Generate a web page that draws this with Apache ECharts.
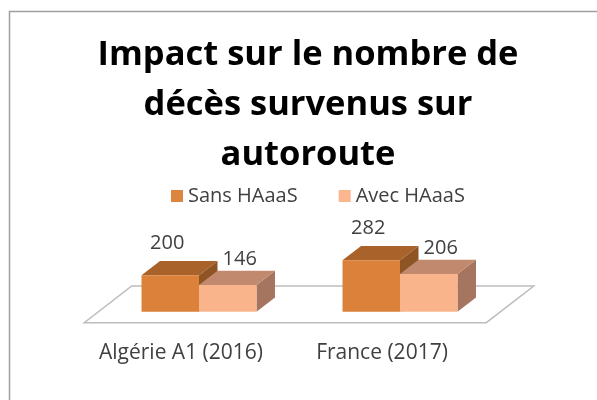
<!DOCTYPE html>
<html>
<head>
<meta charset="utf-8">
<script src="https://cdn.jsdelivr.net/npm/echarts@6/dist/echarts.min.js"></script>
<style>
  html, body { margin: 0; padding: 0; background: #ffffff; }
  #chart { width: 597px; height: 400px; }
</style>
</head>
<body>
<div id="chart"></div>
<script>
// ---- data ----
const categories = ['Algérie A1 (2016)', 'France (2017)'];
const seriesNames = ['Sans HAaaS', 'Avec HAaaS'];
const sansValues = [200, 282];
const avecValues = [146, 206];
const titleLines = ['Impact sur le nombre de', 'décès survenus sur', 'autoroute'];

// ---- style ----
const FONT = '"Open Sans", sans-serif';
const palette = [
  { front: '#DB813A', top: '#A8622A', side: '#8F5424', legend: '#DC853F' },
  { front: '#FAB48C', top: '#C18A6E', side: '#A57560', legend: '#FBB58F' }
];
const DEPTH_X = 18.5;   // oblique box depth, horizontal part
const DEPTH_Y = 14.3;   // oblique box depth, vertical part
const BAR_FRAC = 0.286; // bar width relative to the category band
const labelNudge = [[-3, -18], [12, -11.6]]; // per series: value label offset from the top face

function boxRenderer(seriesIdx) {
  return function (params, api) {
    const cat = api.value(0);
    const val = api.value(1);
    const band = api.size([1, 0])[0];
    const w = band * BAR_FRAC;
    const top = api.coord([cat, val]);
    const base = api.coord([cat, 0]);
    const x0 = seriesIdx === 0 ? top[0] - w : top[0];
    const x1 = x0 + w;
    const yt = top[1], yb = base[1];
    const col = palette[seriesIdx];
    const nudge = labelNudge[seriesIdx];
    return {
      type: 'group',
      children: [
        { type: 'polygon', shape: { points: [[x1, yb], [x1 + DEPTH_X, yb - DEPTH_Y], [x1 + DEPTH_X, yt - DEPTH_Y], [x1, yt]] },
          style: { fill: col.side } },
        { type: 'polygon', shape: { points: [[x0, yt], [x0 + DEPTH_X, yt - DEPTH_Y], [x1 + DEPTH_X, yt - DEPTH_Y], [x1, yt]] },
          style: { fill: col.top } },
        { type: 'rect', shape: { x: x0, y: yt, width: w, height: yb - yt }, style: { fill: col.front } },
        { type: 'text', x: (x0 + x1) / 2 + nudge[0], y: yt - DEPTH_Y + nudge[1],
          style: { text: String(val), font: '20px ' + FONT, fill: '#404040', align: 'center', verticalAlign: 'middle' } }
      ]
    };
  };
}

// floor plate under the boxes, spanning the grid width
function floorRenderer(params, api) {
  const cs = params.coordSys;
  const yb = api.coord([0, 0])[1];
  const k = DEPTH_X / DEPTH_Y;
  const front = 11, back = 25.7;
  const xl = cs.x, xr = cs.x + cs.width;
  return {
    type: 'polygon',
    shape: { points: [
      [xl - front * k, yb + front], [xr - front * k, yb + front],
      [xr + back * k, yb - back], [xl + back * k, yb - back]
    ] },
    style: { fill: '#ffffff', stroke: '#BDBDBD', lineWidth: 1.5 },
    silent: true
  };
}

const chart = echarts.init(document.getElementById('chart'), null, { renderer: 'canvas' });

const option = {
  backgroundColor: '#ffffff',
  animation: false,
  graphic: [
    { type: 'rect', shape: { x: 9.5, y: 11.5, width: 700, height: 500 }, style: { fill: 'none', stroke: '#9E9E9E', lineWidth: 1.5 }, z: -10 }
  ].concat(titleLines.map((t, i) => ({
    type: 'text', x: 308, y: 55 + i * 50,
    style: { text: t, font: 'bold 34.5px ' + FONT, fill: '#000000', align: 'center', verticalAlign: 'middle' }
  }))),
  legend: {
    left: 166, top: 181,
    icon: 'rect', itemWidth: 12, itemHeight: 12, itemGap: 41,
    textStyle: { fontFamily: FONT, fontSize: 20, color: '#404040' },
    data: seriesNames
  },
  grid: { left: 98.5, right: 96.5, top: 256.95, bottom: 88.3 },
  xAxis: {
    type: 'category', data: categories,
    axisLine: { show: false }, axisTick: { show: false }, splitLine: { show: false },
    axisLabel: { interval: 0, hideOverlap: false, margin: 31, fontFamily: FONT, fontSize: 21, color: '#404040', padding: [0, 36, 0, 0] }
  },
  yAxis: { type: 'value', min: 0, max: 300, show: false, splitLine: { show: false } },
  series: [
    { type: 'custom', name: 'floor', renderItem: floorRenderer, data: [[0, 0]], silent: true, z: 1 },
    { type: 'custom', name: seriesNames[0], renderItem: boxRenderer(0), itemStyle: { color: palette[0].legend },
      data: sansValues.map((v, i) => [i, v]), encode: { x: 0, y: 1 }, z: 2 },
    { type: 'custom', name: seriesNames[1], renderItem: boxRenderer(1), itemStyle: { color: palette[1].legend },
      data: avecValues.map((v, i) => [i, v]), encode: { x: 0, y: 1 }, z: 3 }
  ]
};

chart.setOption(option);
</script>
</body>
</html>
